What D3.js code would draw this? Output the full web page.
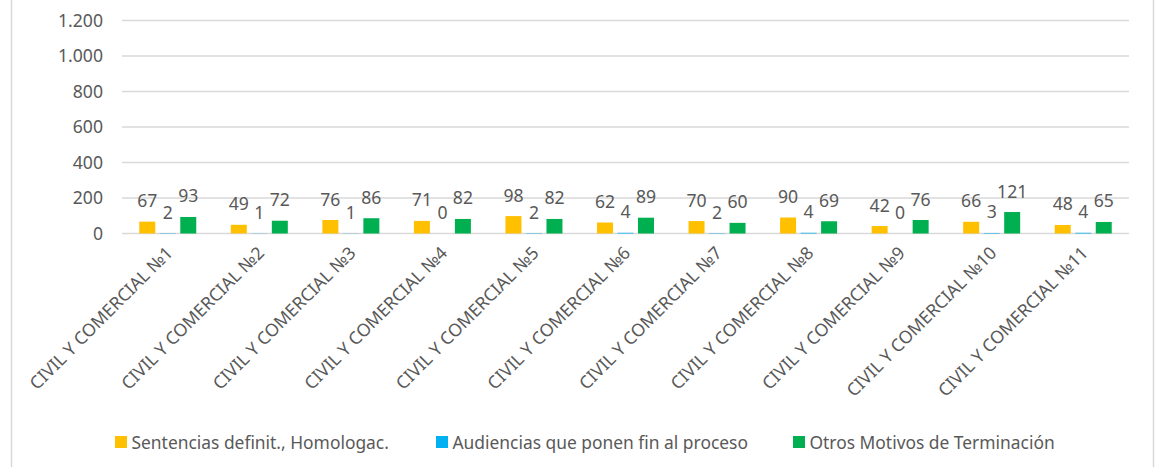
<!DOCTYPE html>
<html>
<head>
<meta charset="utf-8">
<script src="https://cdn.jsdelivr.net/npm/d3@7"></script>
<style>
  html, body { margin: 0; padding: 0; background: #fff; }
  svg { display: block; }
  text { font-family: "Noto Sans", "Open Sans", sans-serif; fill: #595959; }
</style>
</head>
<body>
<svg id="chart" width="1159" height="467"></svg>
<script>
const categories = ["CIVIL Y COMERCIAL №1","CIVIL Y COMERCIAL №2","CIVIL Y COMERCIAL №3","CIVIL Y COMERCIAL №4","CIVIL Y COMERCIAL №5","CIVIL Y COMERCIAL №6","CIVIL Y COMERCIAL №7","CIVIL Y COMERCIAL №8","CIVIL Y COMERCIAL №9","CIVIL Y COMERCIAL №10","CIVIL Y COMERCIAL №11"];
const seriesNames = ["Sentencias definit., Homologac.","Audiencias que ponen fin al proceso","Otros Motivos de Terminación"];
const sentencias = [67,49,76,71,98,62,70,90,42,66,48];
const audiencias = [2,1,1,0,2,4,2,4,0,3,4];
const otros = [93,72,86,82,82,89,60,69,76,121,65];
const seriesColors = ["#FFC000","#00B0F0","#00B050"];
const yTicks = [0,200,400,600,800,1000,1200];

const seriesValues = [sentencias, audiencias, otros];

const svg = d3.select("#chart");

// outer border
svg.append("rect").attr("x", 11.5).attr("y", -2).attr("width", 1142).attr("height", 471)
  .attr("fill", "none").attr("stroke", "#d9d9d9").attr("stroke-width", 1.5);

const plotLeft = 122, plotRight = 1129;
const x0 = d3.scaleBand().domain(categories).range([plotLeft, plotRight]).padding(0);
const x1 = d3.scaleBand().domain(seriesNames).range([-30.75, 30.75]).paddingInner(0.22).paddingOuter(0.11);
const y = d3.scaleLinear().domain([0, 1200]).range([233.5, 20.5]);

const loc = d3.formatLocale({decimal: ",", thousands: ".", grouping: [3], currency: ["", ""]});
const fmt = loc.format(",d");

// gridlines
svg.append("g").selectAll("line").data(yTicks).join("line")
  .attr("x1", plotLeft).attr("x2", plotRight)
  .attr("y1", d => y(d)).attr("y2", d => y(d))
  .attr("stroke", "#d9d9d9").attr("stroke-width", 1.5);

// y axis labels
const yAxis = d3.axisLeft(y).tickValues(yTicks).tickFormat(fmt).tickSize(0).tickPadding(0);
const ya = svg.append("g").attr("transform", `translate(${103},0)`).call(yAxis);
ya.select(".domain").remove();
ya.selectAll("text").attr("font-size", 17.6).attr("fill", "#595959")
  .attr("font-family", "'Noto Sans', sans-serif");

// bars
const groups = svg.append("g").selectAll("g").data(categories).join("g")
  .attr("transform", d => `translate(${x0(d) + x0.bandwidth() / 2},0)`);

groups.each(function(cat, ci) {
  const g = d3.select(this);
  seriesNames.forEach((s, si) => {
    const v = seriesValues[si][ci];
    g.append("rect")
      .attr("x", x1(s)).attr("width", x1.bandwidth())
      .attr("y", y(v)).attr("height", y(0) - y(v))
      .attr("fill", seriesColors[si]);
    g.append("text")
      .attr("x", x1(s) + x1.bandwidth() / 2)
      .attr("y", y(v) - 14.5)
      .attr("text-anchor", "middle")
      .attr("font-size", 17.6)
      .text(v);
  });
});

// category labels
svg.append("g").selectAll("text").data(categories).join("text")
  .attr("transform", d => `translate(${x0(d) + x0.bandwidth() / 2 + 6},${254}) rotate(-45)`)
  .attr("text-anchor", "end")
  .attr("font-size", 17.6)
  .text(d => d);

// legend
const legendX = [115, 436, 793];
const lg = svg.append("g").selectAll("g").data(seriesNames).join("g")
  .attr("transform", (d, i) => `translate(${legendX[i]},436)`);
lg.append("rect").attr("width", 12).attr("height", 12).attr("fill", (d, i) => seriesColors[i]);
lg.append("text").attr("x", 16.5).attr("y", 12.5).attr("font-size", 17.4).text(d => d);
</script>
</body>
</html>
